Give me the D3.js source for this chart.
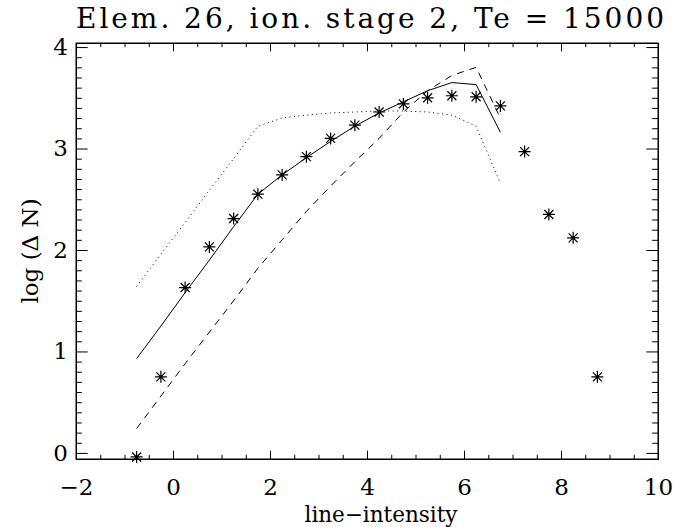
<!DOCTYPE html>
<html lang="en">
<head>
<meta charset="UTF-8">
<title>Elem. 26, ion. stage 2</title>
<script src="https://cdnjs.cloudflare.com/ajax/libs/d3/7.8.5/d3.min.js"></script>
<style>
    body { margin: 0; background: #fff; }
    svg { display: block; }
    .axis path, .axis line { stroke: #000; stroke-width: 1px; }
    .axis text { font-family: "DejaVu Serif", serif; font-size: 23px; fill: #000; }
    .lbl { font-family: "DejaVu Serif", serif; fill: #000; }
</style>
</head>
<body>
<div id="chart"></div>
<script>
// x positions of the sampled line-intensity bins
const xBins = [-0.75, -0.25, 0.25, 0.75, 1.25, 1.75, 2.25, 2.75, 3.25, 3.75,
               4.25, 4.75, 5.25, 5.75, 6.25, 6.75, 7.25, 7.75, 8.25, 8.75];
// observed points (asterisks)
const observed = [-0.04, 0.75, 1.63, 2.03, 2.31, 2.55, 2.74, 2.92, 3.10, 3.23,
                  3.36, 3.44, 3.50, 3.52, 3.51, 3.42, 2.97, 2.35, 2.12, 0.75];
// model curves, defined up to x = 6.75
const solidY  = [0.93, 1.25, 1.58, 1.90, 2.23, 2.55, 2.74, 2.91, 3.07, 3.22,
                 3.35, 3.46, 3.57, 3.65, 3.63, 3.16];
const dashedY = [0.24, 0.56, 0.88, 1.19, 1.50, 1.82, 2.10, 2.38, 2.63, 2.87,
                 3.10, 3.36, 3.57, 3.72, 3.80, 3.30];
const dottedY = [1.64, 1.96, 2.27, 2.59, 2.90, 3.22, 3.30, 3.33, 3.35, 3.36,
                 3.37, 3.37, 3.36, 3.33, 3.22, 2.66];

const xMajor = [-2, 0, 2, 4, 6, 8, 10];
const yMajor = [0, 1, 2, 3, 4];

const W = 693, H = 527;
const box = { left: 76, right: 658, top: 43, bottom: 459 };

const svg = d3.select("#chart").append("svg")
    .attr("width", W).attr("height", H);

const x = d3.scaleLinear().domain([-2, 10]).range([box.left, box.right]);
const y = d3.scaleLinear().domain([-0.06, 4.04]).range([box.bottom, box.top]);

const plotW = box.right - box.left, plotH = box.bottom - box.top;
const xTick = 0.02 * plotH, yTick = 0.02 * plotW;

const xMinor = d3.range(-2, 10.001, 0.5).filter(v => Math.abs(v % 2) > 1e-6);
const yMinor = d3.range(0, 4.001, 0.1).map(v => +v.toFixed(1)).filter(v => Math.abs(v - Math.round(v)) > 1e-6);

const fmt = d => d < 0 ? "\u2212" + Math.abs(d) : String(d);

// bottom axis with labels
svg.append("g").attr("class", "axis")
    .attr("transform", `translate(0,${box.bottom})`)
    .call(d3.axisBottom(x).tickValues(xMajor).tickSize(-xTick).tickSizeOuter(0)
        .tickPadding(20).tickFormat(fmt));
svg.append("g").attr("class", "axis")
    .attr("transform", `translate(0,${box.bottom})`)
    .call(d3.axisBottom(x).tickValues(xMinor).tickSize(-xTick / 2).tickSizeOuter(0).tickFormat(""));
// top axis
svg.append("g").attr("class", "axis")
    .attr("transform", `translate(0,${box.top})`)
    .call(d3.axisTop(x).tickValues(xMajor).tickSize(-xTick).tickSizeOuter(0).tickFormat(""));
svg.append("g").attr("class", "axis")
    .attr("transform", `translate(0,${box.top})`)
    .call(d3.axisTop(x).tickValues(xMinor).tickSize(-xTick / 2).tickSizeOuter(0).tickFormat(""));
// left axis with labels
svg.append("g").attr("class", "axis")
    .attr("transform", `translate(${box.left},0)`)
    .call(d3.axisLeft(y).tickValues(yMajor).tickSize(-yTick).tickSizeOuter(0)
        .tickPadding(8).tickFormat(fmt));
svg.append("g").attr("class", "axis")
    .attr("transform", `translate(${box.left},0)`)
    .call(d3.axisLeft(y).tickValues(yMinor).tickSize(-yTick / 2).tickSizeOuter(0).tickFormat(""));
// right axis
svg.append("g").attr("class", "axis")
    .attr("transform", `translate(${box.right},0)`)
    .call(d3.axisRight(y).tickValues(yMajor).tickSize(-yTick).tickSizeOuter(0).tickFormat(""));
svg.append("g").attr("class", "axis")
    .attr("transform", `translate(${box.right},0)`)
    .call(d3.axisRight(y).tickValues(yMinor).tickSize(-yTick / 2).tickSizeOuter(0).tickFormat(""));

// frame
svg.append("rect")
    .attr("x", box.left).attr("y", box.top)
    .attr("width", plotW).attr("height", plotH)
    .attr("fill", "none").attr("stroke", "#000");

// model curves
const line = d3.line().x(d => x(d[0])).y(d => y(d[1]));
const curves = [
    { vals: solidY,  dash: null },
    { vals: dashedY, dash: "7,6" },
    { vals: dottedY, dash: "1,3.5" }
];
curves.forEach(c => {
    svg.append("path")
        .datum(c.vals.map((v, i) => [xBins[i], v]))
        .attr("d", line)
        .attr("fill", "none")
        .attr("stroke", "#000")
        .attr("stroke-width", 1)
        .attr("stroke-dasharray", c.dash);
});

// asterisk markers
const r = 6;
const k = r * 0.75;
const star = `M${-r},0H${r}M0,${-r}V${r}M${-k},${-k}L${k},${k}M${-k},${k}L${k},${-k}`;
svg.append("g").selectAll("path")
    .data(observed.map((v, i) => [xBins[i], v]))
    .join("path")
    .attr("transform", d => `translate(${x(d[0])},${y(d[1])})`)
    .attr("d", star)
    .attr("fill", "none")
    .attr("stroke", "#000")
    .attr("stroke-width", 1.2);

// labels
svg.append("text").attr("class", "lbl")
    .attr("x", 76).attr("y", 28)
    .attr("font-size", 28)
    .attr("textLength", 588).attr("lengthAdjust", "spacing")
    .text("Elem. 26, ion. stage 2, Te = 15000");

svg.append("text").attr("class", "lbl")
    .attr("x", 381).attr("y", 522)
    .attr("text-anchor", "middle").attr("font-size", 21.5)
    .text("line\u2212intensity");

svg.append("text").attr("class", "lbl")
    .attr("transform", `translate(38,${(box.top + box.bottom) / 2}) rotate(-90)`)
    .attr("text-anchor", "middle").attr("font-size", 23)
    .text("log (\u0394 N)");
</script>
</body>
</html>
